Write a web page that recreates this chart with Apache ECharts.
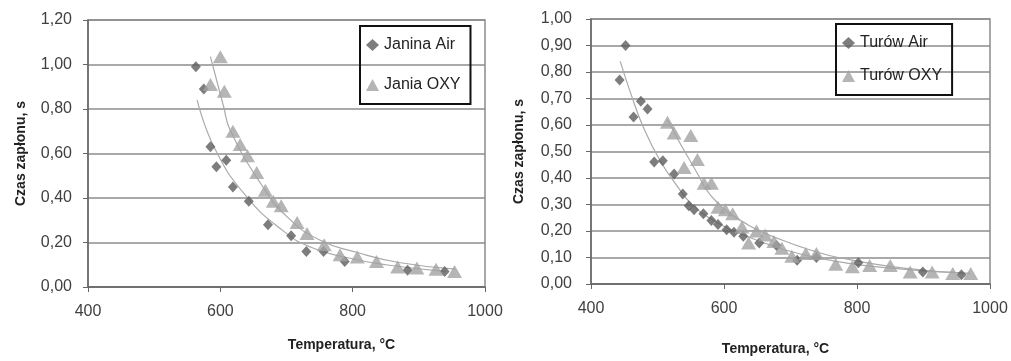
<!DOCTYPE html>
<html>
<head>
<meta charset="utf-8">
<script src="https://cdn.jsdelivr.net/npm/echarts@6/dist/echarts.min.js"></script>
<style>
  html, body { margin: 0; background: #fff; }
  #chart { width: 1011px; height: 361px; }
</style>
</head>
<body>
<div id="chart"></div>
<script>
// Janina: [temperature °C, ignition time s]
const janinaAir = [[563,0.99],[575,0.89],[585,0.63],[594,0.54],[609,0.57],[619,0.45],[643,0.385],[672,0.28],[707,0.23],[730,0.16],[756,0.16],[788,0.115],[883,0.075],[939,0.07]];
const janiaOxy = [[600,1.035],[585,0.91],[606,0.88],[619,0.70],[630,0.64],[641,0.59],[655,0.515],[668,0.435],[680,0.385],[692,0.365],[716,0.29],[731,0.24],[757,0.19],[781,0.145],[807,0.135],[836,0.115],[868,0.09],[897,0.085],[926,0.08],[954,0.07]];
const janinaAirTrend = [[565,0.84],[592,0.62],[640,0.405],[696,0.25],[736,0.18],[787,0.135],[850,0.10],[940,0.07]];
const janiaOxyTrend = [[585,1.035],[605,0.81],[615,0.705],[661,0.465],[701,0.315],[751,0.21],[807,0.155],[870,0.11],[955,0.08]];

// Turów
const turowAir = [[452,0.90],[443,0.77],[464,0.63],[475,0.69],[485,0.66],[495,0.46],[508,0.465],[525,0.415],[538,0.34],[547,0.295],[555,0.28],[569,0.265],[581,0.24],[591,0.225],[604,0.205],[615,0.195],[629,0.18],[653,0.155],[679,0.145],[710,0.09],[739,0.10],[802,0.08],[899,0.045],[957,0.035]];
const turowOxy = [[515,0.61],[525,0.57],[550,0.56],[540,0.44],[560,0.47],[570,0.38],[581,0.38],[591,0.29],[602,0.28],[613,0.265],[627,0.215],[637,0.155],[649,0.20],[662,0.185],[675,0.16],[687,0.135],[702,0.105],[723,0.115],[739,0.115],[768,0.075],[793,0.065],[819,0.07],[850,0.07],[880,0.045],[913,0.045],[944,0.04],[971,0.04]];
const turowAirTrend = [[444,0.84],[459,0.725],[479,0.59],[504,0.465],[531,0.365],[550,0.305],[584,0.24],[634,0.18],[684,0.135],[744,0.097],[850,0.06],[958,0.042]];
const turowOxyTrend = [[515,0.62],[557,0.43],[587,0.315],[637,0.222],[687,0.166],[737,0.123],[772,0.10],[870,0.06],[970,0.04]];

const font = 'Liberation Sans, Arial, sans-serif';
const textColor = '#404040';
const darkMark = '#5c5c5c';
const lightMark = '#a3a3a3';
const trendColor = '#aaaaaa';

function xAxisFor(gridIndex, gap, pad) {
  return {
    type: 'value', gridIndex: gridIndex, min: 400, max: 1000, interval: 200,
    name: 'Temperatura, °C', nameLocation: 'middle', nameGap: gap,
    nameTextStyle: { fontFamily: font, fontWeight: 'bold', fontSize: 14, color: '#222', padding: pad },
    axisLine: { onZero: false, lineStyle: { color: '#666', width: 1.5 } },
    axisTick: { show: true, length: 5, lineStyle: { color: '#666' } },
    axisLabel: { fontFamily: font, fontSize: 16, color: textColor, margin: 17, formatter: v => String(v) },
    splitLine: { show: false }
  };
}

function yAxisFor(gridIndex, max, interval, gap, margin) {
  return {
    type: 'value', gridIndex: gridIndex, min: 0, max: max, interval: interval,
    name: 'Czas zapłonu, s', nameLocation: 'middle', nameGap: gap,
    nameTextStyle: { fontFamily: font, fontWeight: 'bold', fontSize: 14, color: '#222' },
    axisLine: { show: true, lineStyle: { color: '#666', width: 1.5 } },
    axisTick: { show: true, length: 5, lineStyle: { color: '#666' } },
    axisLabel: {
      fontFamily: font, fontSize: 16, color: textColor, margin: margin,
      formatter: v => v.toFixed(2).replace('.', ',')
    },
    splitLine: { show: true, lineStyle: { color: '#8c8c8c', width: 1.5 } }
  };
}

function scatter(name, data, idx, symbol, size, color) {
  return {
    name: name, type: 'scatter', xAxisIndex: idx, yAxisIndex: idx,
    symbol: symbol, symbolSize: size, itemStyle: { color: color }, data: data, z: 3
  };
}

function trend(name, data, idx) {
  return {
    name: name, type: 'line', xAxisIndex: idx, yAxisIndex: idx, smooth: true,
    showSymbol: false, lineStyle: { color: trendColor, width: 1.2 }, data: data, z: 2, silent: true
  };
}

function legendFor(names, left, top, gap) {
  return {
    orient: 'vertical', left: left, top: top, data: names,
    borderColor: '#111', borderWidth: 2, padding: [11, 10, 11, 6],
    itemGap: gap, itemWidth: 13, itemHeight: 12,
    textStyle: { fontFamily: font, fontSize: 16, color: '#222' }
  };
}

const chart = echarts.init(document.getElementById('chart'));
chart.setOption({
  animation: false,
  backgroundColor: '#fff',
  grid: [
    { left: 88, top: 20, width: 397, height: 267, show: true, borderColor: '#8c8c8c', borderWidth: 1.5 },
    { left: 591, top: 19, width: 399, height: 269, show: true, borderColor: '#8c8c8c', borderWidth: 1.5 }
  ],
  legend: [
    legendFor(['Janina Air', 'Jania OXY'], 360, 26, 24),
    legendFor(['Turów Air', 'Turów OXY'], 836, 24, 17)
  ],
  xAxis: [xAxisFor(0, 51, [0, 0, 0, 110]), xAxisFor(1, 58, [0, 30, 0, 0])],
  yAxis: [yAxisFor(0, 1.2, 0.2, 60, 16), yAxisFor(1, 1.0, 0.1, 65, 19)],
  series: [
    trend('trA', janinaAirTrend, 0),
    trend('trB', janiaOxyTrend, 0),
    scatter('Janina Air', janinaAir, 0, 'diamond', [10, 11], darkMark),
    scatter('Jania OXY', janiaOxy, 0, 'triangle', [15, 13], lightMark),
    trend('trC', turowAirTrend, 1),
    trend('trD', turowOxyTrend, 1),
    scatter('Turów Air', turowAir, 1, 'diamond', [10, 11], darkMark),
    scatter('Turów OXY', turowOxy, 1, 'triangle', [15, 13], lightMark)
  ]
});
</script>
</body>
</html>
